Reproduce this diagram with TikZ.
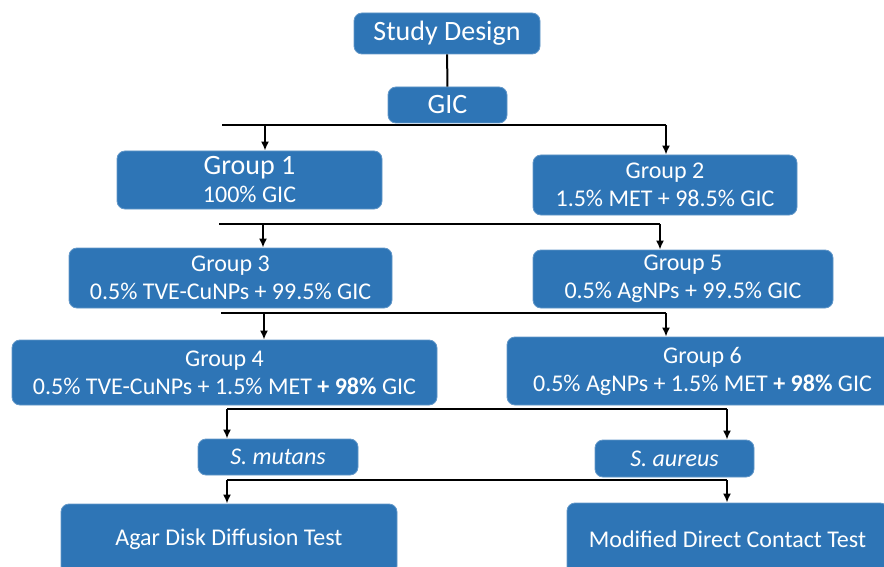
\documentclass[tikz,border=0pt]{standalone}
\usepackage{fontspec}
\setmainfont{Carlito}
\usetikzlibrary{arrows.meta,positioning}
\definecolor{boxblue}{RGB}{46,117,182}

\begin{document}
\begin{tikzpicture}[x=1pt,y=-1pt,>={Latex[length=9pt,width=8pt]},
		link/.style={draw,line width=2pt},
		block/.style={rectangle,fill=boxblue,draw=boxblue!75!white,line width=0.8pt,text=white,align=center,rounded corners=8pt,inner sep=0pt,font=\fontsize{24}{28}\selectfont},
		big/.style={font=\fontsize{28}{32}\selectfont}]
		\useasboundingbox (0,0) rectangle (884,567);
		\clip (0,0) rectangle (884,567);

		\node[block,big,minimum width=186pt,minimum height=41pt] (study) at (447,33.5) {Study Design};
		\node[block,big,minimum width=119pt,minimum height=36pt] (gic) at (447.5,105) {GIC};
		\node[block,minimum width=265pt,minimum height=58pt] (grp1) at (249.5,180) {{\fontsize{28}{32}\selectfont Group 1}\\100\% GIC};
		\node[block,minimum width=264pt,minimum height=60pt] (grp2) at (665,185) {Group 2\\1.5\% MET + 98.5\% GIC};
		\node[block,minimum width=323pt,minimum height=60pt] (grp3) at (230.5,278) {Group 3\\0.5\% TVE-CuNPs + 99.5\% GIC};
		\node[block,minimum width=300pt,minimum height=58pt] (grp5) at (683,279) {Group 5\\0.5\% AgNPs + 99.5\% GIC};
		\node[block,minimum width=425pt,minimum height=65pt] (grp4) at (224.5,372.5) {Group 4\\0.5\% TVE-CuNPs + 1.5\% MET \textbf{+ 98\%} GIC};
		\node[block,minimum width=391pt,minimum height=68pt] (grp6) at (702.5,371) {Group 6\\0.5\% AgNPs + 1.5\% MET \textbf{+ 98\%} GIC};
		\node[block,minimum width=160pt,minimum height=36pt] (mutans) at (278,457) {\textit{S. mutans}};
		\node[block,minimum width=159pt,minimum height=37pt] (aureus) at (674.5,458.5) {\textit{S. aureus}};
		\node[block,minimum width=336pt,minimum height=70pt] (agar) at (229,539) {Agar Disk Diffusion Test};
		\node[block,minimum width=321pt,minimum height=72pt] (mdct) at (727.5,539) {Modified Direct Contact Test};

		% bus ends and drop points
		\coordinate (busA) at (222,125);
		\coordinate (busAr) at (666,125);
		\coordinate (dropA) at (265,125);
		\coordinate (busB) at (219,224);
		\coordinate (busBr) at (660,224);
		\coordinate (dropB) at (263,224);
		\coordinate (busC) at (221,313);
		\coordinate (busCr) at (666,313);
		\coordinate (dropC) at (264,313);
		\coordinate (busD) at (227,409);
		\coordinate (busDr) at (727,409);
		\coordinate (busE) at (227,480);
		\coordinate (busEr) at (727,480);

		\draw[link] (study) to (gic);
		\draw[link] (busA) to (busAr);
		\draw[link,->] (dropA) to (dropA |- grp1.north);
		\draw[link,->] (busAr) to (busAr |- grp2.north);
		\draw[link] (busB) to (busBr);
		\draw[link,->] (dropB) to (dropB |- grp3.north);
		\draw[link,->] (busBr) to (busBr |- grp5.north);
		\draw[link] (busC) to (busCr);
		\draw[link,->] (dropC) to (dropC |- grp4.north);
		\draw[link,->] (busCr) to (busCr |- grp6.north);
		\draw[link] (busD) to (busDr);
		\draw[link,->] (busD) to (busD |- mutans.north);
		\draw[link,->] (busDr) to (busDr |- aureus.north);
		\draw[link] (busE) to (busEr);
		\draw[link,->] (busE) to (busE |- agar.north);
		\draw[link,->] (busEr) to (busEr |- mdct.north);
	\end{tikzpicture}
\end{document}
